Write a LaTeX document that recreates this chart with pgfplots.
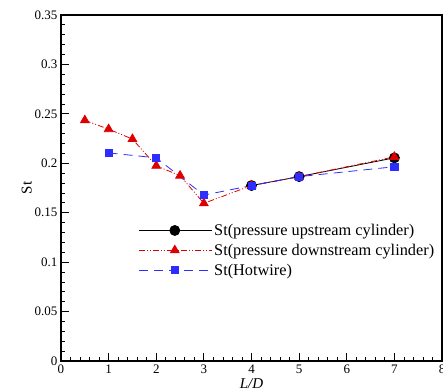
\documentclass[border=0pt]{standalone}
\usepackage{fontspec}
\setmainfont{Liberation Serif}
\usepackage{pgfplots}
\pgfplotsset{compat=1.18}
\definecolor{myred}{RGB}{220,0,0}
\definecolor{myblue}{RGB}{45,45,255}
\begin{document}
\begin{tikzpicture}[x=1pt,y=1pt]
\begin{axis}[
  scale only axis,
  width=381pt, height=346pt,
  xmin=0, xmax=8, ymin=0, ymax=0.35,
  xtick={0,1,...,8},
  ytick={0,0.05,0.1,0.15,0.2,0.25,0.3,0.35},
  minor x tick num=4, minor y tick num=4,
  tick pos=left, tick align=inside,
  major tick length=8pt, minor tick length=4.5pt,
  every tick/.style={black, line width=0.8pt},
  axis line style={line width=1.6pt},
  scaled y ticks=false,
  yticklabel style={/pgf/number format/fixed, /pgf/number format/precision=2},
  /pgf/number format/assume math mode=true,
  tick label style={font=\fontsize{13}{15}\selectfont},
  xlabel={\textit{L/D}}, ylabel={St},
  label style={font=\fontsize{15}{17}\selectfont},
  xlabel style={yshift=2pt},
  ylabel style={yshift=-4pt},
  legend style={draw=white, fill=none, inner sep=1pt, at={(0.2,0.405)}, anchor=north west,
    font=\fontsize{16.3}{18}\selectfont, row sep=3pt},
  legend cell align=left,
  legend image code/.code={\draw[mark repeat=2,mark phase=2] plot coordinates {(0pt,0pt) (36pt,0pt) (73pt,0pt)};},
]
\coordinate (ll) at (rel axis cs:0,0);
\coordinate (ur) at (rel axis cs:1,1);
\addplot[black, line width=0.8pt, mark=*, mark size=5pt, mark options={solid, fill=black}]
  coordinates {(4,0.1775) (5,0.1865) (7,0.2055)};
\addlegendentry{St(pressure upstream cylinder)}
\addplot[color=myred, line width=0.8pt, dash pattern=on 6pt off 2pt on 1pt off 2pt on 1pt off 2pt, mark=triangle*, mark size=5pt, mark options={solid, fill=myred, draw=myred}]
  coordinates {(0.5,0.2435) (1,0.2345) (1.5,0.2245) (2,0.1975) (2.5,0.1875) (3,0.1595) (4,0.1775) (5,0.1865) (7,0.2065)};
\addlegendentry{St(pressure downstream cylinder)}
\addplot[color=myblue, line width=0.8pt, dash pattern=on 9pt off 6pt, mark=square*, mark size=3.6pt, mark options={solid, fill=myblue, draw=myblue}]
  coordinates {(1,0.2105) (2,0.2055) (3,0.1678) (4,0.1775) (5,0.1865) (7,0.1965)};
\addlegendentry{St(Hotwire)}
\end{axis}
\pgfresetboundingbox
\path[use as bounding box] ([shift={(-61pt,-30pt)}]ll) rectangle ([shift={(1pt,15pt)}]ur);
\end{tikzpicture}
\end{document}
